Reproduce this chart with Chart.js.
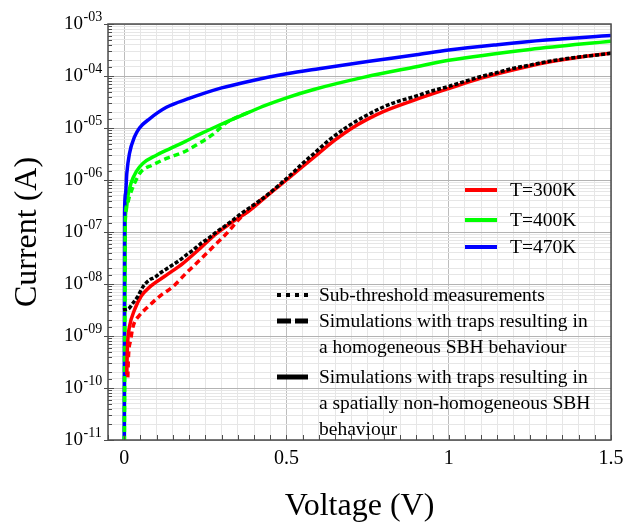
<!DOCTYPE html>
<html>
<head>
<meta charset="utf-8">
<script src="https://cdn.jsdelivr.net/npm/chart.js@4.4.0/dist/chart.umd.min.js"></script>
<style>
  html, body { margin: 0; padding: 0; background: #fff; }
</style>
</head>
<body>
<canvas id="myChart" width="633" height="522"></canvas>
<script>
const FONT = "'Liberation Serif', 'Times New Roman', serif";

// T = 470 K (blue), simulation
const voltsBlue = [0, 0.001, 0.004, 0.008, 0.016, 0.032, 0.047, 0.078, 0.13, 0.2, 0.3, 0.4, 0.5, 0.6, 0.75, 0.9, 1.0, 1.15, 1.3, 1.5];
const currBlue = [1e-12, 2.3e-7, 5.5e-7, 1.35e-6, 3.2e-6, 6.8e-6, 1.0e-5, 1.5e-5, 2.5e-5, 3.7e-5, 5.9e-5, 8.3e-5, 1.1e-4, 1.38e-4, 1.9e-4, 2.57e-4, 3.16e-4, 4.0e-4, 4.9e-4, 6.0e-4];

// T = 400 K (green), non-homogeneous simulation (solid)
const voltsGreen = [0, 0.003, 0.006, 0.011, 0.021, 0.037, 0.058, 0.099, 0.14, 0.181, 0.233, 0.284, 0.335, 0.387, 0.433, 0.5, 0.584, 0.74, 0.9, 1.0, 1.25, 1.5];
const currGreen = [1e-12, 1.5e-7, 2.6e-7, 4.8e-7, 8.7e-7, 1.45e-6, 2.1e-6, 3.0e-6, 3.98e-6, 5.25e-6, 7.6e-6, 1.07e-5, 1.48e-5, 2.04e-5, 2.69e-5, 3.8e-5, 5.5e-5, 9.5e-5, 1.51e-4, 2.0e-4, 3.24e-4, 4.68e-4];

// T = 400 K, homogeneous simulation (dashed)
const voltsGreenDash = [0, 0.003, 0.008, 0.016, 0.032, 0.052, 0.088, 0.13, 0.181, 0.222, 0.274, 0.31, 0.335, 0.387];
const currGreenDash = [1e-12, 1.5e-7, 3.2e-7, 4.8e-7, 8.7e-7, 1.45e-6, 1.95e-6, 2.6e-6, 3.4e-6, 4.7e-6, 7.6e-6, 1.2e-5, 1.48e-5, 2.04e-5];

// T = 300 K (red), non-homogeneous simulation (solid)
const voltsRed = [0.008, 0.009, 0.011, 0.016, 0.032, 0.052, 0.078, 0.13, 0.181, 0.233, 0.284, 0.335, 0.387, 0.45, 0.5, 0.55, 0.6, 0.65, 0.7, 0.75, 0.8, 0.9, 1.0, 1.1, 1.2, 1.3, 1.4, 1.5];
const currRed = [1.8e-10, 4.0e-10, 8.3e-10, 1.5e-9, 3.2e-9, 5.8e-9, 8.7e-9, 1.48e-8, 2.5e-8, 4.8e-8, 9.3e-8, 1.58e-7, 2.6e-7, 5.6e-7, 1.0e-6, 1.82e-6, 3.3e-6, 5.9e-6, 9.8e-6, 1.48e-5, 2.09e-5, 3.55e-5, 5.75e-5, 9.1e-5, 1.32e-4, 1.82e-4, 2.3e-4, 2.75e-4];

// T = 300 K, homogeneous simulation (dashed)
const voltsRedDash = [0.011, 0.013, 0.02, 0.027, 0.047, 0.068, 0.109, 0.15, 0.191, 0.233, 0.274, 0.315, 0.356, 0.407, 0.45];
const currRedDash = [1.6e-10, 4.0e-10, 8.5e-10, 1.5e-9, 2.5e-9, 3.4e-9, 5.8e-9, 8.9e-9, 1.62e-8, 2.9e-8, 5.2e-8, 9.3e-8, 1.82e-7, 3.55e-7, 5.6e-7];

// T = 300 K, sub-threshold measurement (black dotted)
const voltsMeas = [-0.004, 0.012, 0.027, 0.042, 0.058, 0.078, 0.095, 0.109, 0.13, 0.15, 0.17, 0.191, 0.21, 0.233, 0.26, 0.284, 0.31, 0.335, 0.36, 0.387, 0.42, 0.45, 0.48, 0.52, 0.55, 0.584, 0.63, 0.687, 0.74, 0.79, 0.84, 0.893, 0.95, 1.0, 1.05, 1.1, 1.15, 1.2, 1.25, 1.305, 1.35, 1.407, 1.45, 1.5];
const currMeas = [3.2e-9, 3.3e-9, 4.3e-9, 5.8e-9, 8.9e-9, 1.2e-8, 1.35e-8, 1.6e-8, 1.95e-8, 2.35e-8, 2.85e-8, 3.6e-8, 4.4e-8, 5.8e-8, 7.6e-8, 1.0e-7, 1.3e-7, 1.7e-7, 2.25e-7, 2.95e-7, 4.1e-7, 5.75e-7, 8.3e-7, 1.38e-6, 2.1e-6, 3.2e-6, 5.75e-6, 1.05e-5, 1.66e-5, 2.4e-5, 3.2e-5, 4.0e-5, 5.2e-5, 6.3e-5, 7.9e-5, 9.8e-5, 1.17e-4, 1.41e-4, 1.62e-4, 1.9e-4, 2.1e-4, 2.35e-4, 2.5e-4, 2.75e-4];

// tick labels
const xTickLabels = [0, 0.5, 1, 1.5];
const yTickExps = [-11, -10, -9, -8, -7, -6, -5, -4, -3];

// legend texts
const tempLabels = ["T=300K", "T=400K", "T=470K"];
const tempColors = ["#ff0000", "#00ff00", "#0000ff"];
const styleLabels = [
  ["Sub-threshold measurements"],
  ["Simulations with traps resulting in", "a homogeneous SBH behaviour"],
  ["Simulations with traps resulting in", "a spatially non-homogeneous SBH", "behaviour"],
];

const toPoints = (xs, ys) => xs.map((x, i) => ({ x: x, y: ys[i] }));

const isDecade = (v) => {
  const l = Math.log10(v);
  return Math.abs(l - Math.round(l)) < 1e-6;
};
const isHalf = (v) => xTickLabels.some((t) => Math.abs(t - v) < 1e-6);

const extras = {
  id: "extras",
  afterDraw(chart) {
    const ctx = chart.ctx;
    const { left, right, top, bottom } = chart.chartArea;
    const xs = chart.scales.x;
    const ys = chart.scales.y;
    ctx.save();

    // inner ticks
    ctx.strokeStyle = "#4d4d4d";
    ctx.lineWidth = 1;
    xs.ticks.forEach((t) => {
      const px = Math.round(xs.getPixelForValue(t.value)) + 0.5;
      ctx.beginPath();
      ctx.moveTo(px, bottom);
      ctx.lineTo(px, bottom - 5);
      ctx.stroke();
    });
    ys.ticks.forEach((t) => {
      const py = Math.round(ys.getPixelForValue(t.value)) + 0.5;
      const major = isDecade(t.value);
      ctx.beginPath();
      ctx.moveTo(left - (major ? 4 : 0), py);
      ctx.lineTo(left + (major ? 6 : 4), py);
      ctx.stroke();
    });

    // frame
    ctx.strokeStyle = "#4d4d4d";
    ctx.lineWidth = 1.5;
    ctx.strokeRect(left, top, right - left, bottom - top);

    // y tick labels 10^-nn
    ctx.fillStyle = "#000";
    yTickExps.forEach((e) => {
      const py = ys.getPixelForValue(Math.pow(10, e));
      ctx.font = "19px " + FONT;
      ctx.textAlign = "right";
      ctx.textBaseline = "middle";
      ctx.fillText("10", 83, py);
      ctx.font = "14px " + FONT;
      ctx.textAlign = "left";
      ctx.fillText("-" + String(-e).padStart(2, "0"), 83.5, py - 7);
    });

    // legend: temperatures
    ctx.font = "19.5px " + FONT;
    ctx.textAlign = "left";
    ctx.textBaseline = "middle";
    const tempY = [190, 220, 247];
    tempLabels.forEach((lab, i) => {
      ctx.strokeStyle = tempColors[i];
      ctx.lineWidth = 4;
      ctx.setLineDash([]);
      ctx.beginPath();
      ctx.moveTo(465, tempY[i]);
      ctx.lineTo(497, tempY[i]);
      ctx.stroke();
      ctx.fillText(lab, 510, tempY[i] + 1);
    });

    // legend: line styles
    const styleY = [295, 321, 377];
    const dashes = [[4, 5], [14, 4], []];
    const widths = [4, 5, 5];
    styleLabels.forEach((lines, i) => {
      ctx.strokeStyle = "#000";
      ctx.lineWidth = widths[i];
      ctx.setLineDash(dashes[i]);
      ctx.beginPath();
      ctx.moveTo(277, styleY[i]);
      ctx.lineTo(308, styleY[i]);
      ctx.stroke();
      lines.forEach((txt, j) => {
        ctx.fillText(txt, 319, styleY[i] + 1 + j * 26);
      });
    });
    ctx.restore();
  },
};

var ctx = document.getElementById("myChart").getContext("2d");
var myChart = new Chart(ctx, {
  type: "line",
  data: {
    datasets: [
      {
        label: "300K measurement",
        data: toPoints(voltsMeas, currMeas),
        borderColor: "#000000",
        borderWidth: 3.5,
        borderDash: [4, 2],
        order: 1,
      },
      {
        label: "300K non-homogeneous",
        data: toPoints(voltsRed, currRed),
        borderColor: "#ff0000",
        borderWidth: 3.5,
        order: 2,
      },
      {
        label: "300K homogeneous",
        data: toPoints(voltsRedDash, currRedDash),
        borderColor: "#ff0000",
        borderWidth: 3.5,
        borderDash: [6, 4],
        order: 3,
      },
      {
        label: "400K homogeneous",
        data: toPoints(voltsGreenDash, currGreenDash),
        borderColor: "#00ff00",
        borderWidth: 3.5,
        borderDash: [6, 4],
        order: 4,
      },
      {
        label: "470K",
        data: toPoints(voltsBlue, currBlue),
        borderColor: "#0000ff",
        borderWidth: 3.5,
        order: 5,
      },
      {
        label: "400K non-homogeneous",
        data: toPoints(voltsGreen, currGreen),
        borderColor: "#00ff00",
        borderWidth: 3.5,
        order: 6,
      },
    ],
  },
  options: {
    responsive: false,
    animation: false,
    layout: { padding: { top: 24, right: 22, left: 0, bottom: 0 } },
    elements: {
      point: { radius: 0 },
      line: { cubicInterpolationMode: "monotone", fill: false },
    },
    plugins: {
      legend: { display: false },
      tooltip: { enabled: false },
    },
    scales: {
      x: {
        type: "linear",
        min: -0.05,
        max: 1.5,
        ticks: {
          stepSize: 0.05,
          autoSkip: false,
          maxRotation: 0,
          padding: 7,
          color: "#000",
          font: { family: FONT, size: 20 },
          callback: (v) => (isHalf(v) ? String(Math.round(v * 2) / 2) : ""),
        },
        grid: {
          drawTicks: false,
          lineWidth: 1,
          color: (c) => (c.tick && isHalf(c.tick.value) ? "#bdbdbd" : "#e6e6e6"),
        },
        border: { display: false },
        title: {
          display: true,
          text: "Voltage (V)",
          color: "#000",
          font: { family: FONT, size: 32 },
          padding: { top: 0, bottom: -4 },
        },
        afterFit: (s) => {
          s.height = 82;
        },
      },
      y: {
        type: "logarithmic",
        min: 1e-11,
        max: 1e-3,
        ticks: { display: false, autoSkip: false },
        grid: {
          drawTicks: false,
          lineWidth: 1,
          color: (c) => (c.tick && isDecade(c.tick.value) ? "#b3b3b3" : "#e6e6e6"),
        },
        border: { display: false },
        title: {
          display: true,
          text: "Current (A)",
          color: "#000",
          font: { family: FONT, size: 32 },
          padding: { top: 8, bottom: 0 },
        },
        afterFit: (s) => {
          s.width = 108;
        },
      },
    },
  },
  plugins: [extras],
});
</script>
</body>
</html>
